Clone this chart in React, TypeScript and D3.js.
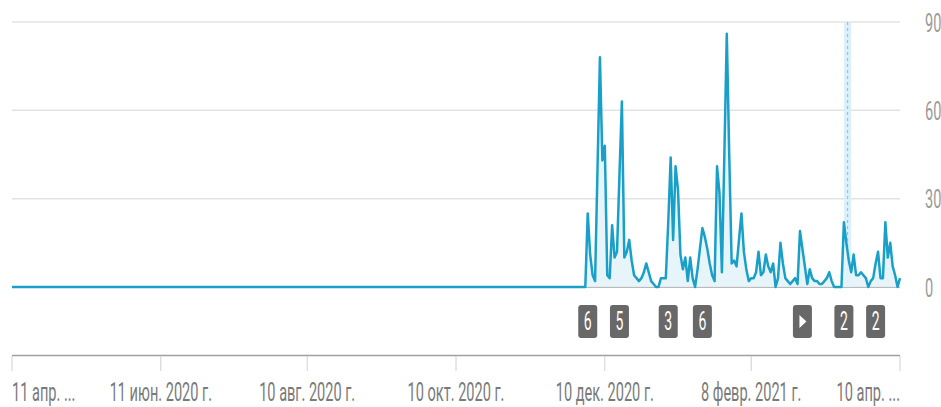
import React from "react";
import * as d3 from "d3";

// ---- data ----
const domainDates = ["2020-04-11", "2021-04-10"];
const flatDates = ["2020-04-11", "2020-12-02"];
const flatValues = [0, 0];
const activeStart = "2020-12-03";
const activeValues = [
  25, 11, 4, 2, 40, 78, 43, 48, 4, 3,
  21, 10, 12, 38, 63, 10, 12, 16, 9, 4,
  3, 2, 3, 5, 8, 5, 2, 1, 0, 0,
  3, 3, 3, 22, 44, 16, 41, 33, 11, 6,
  10, 2, 10, 3, 0, 6, 13, 20, 17, 13,
  8, 4, 2, 41, 32, 5, 45, 86, 45, 8,
  9, 7, 16, 25, 12, 6, 2, 3, 3, 5,
  12, 4, 5, 11, 7, 5, 8, 0, 3, 15,
  8, 3, 2, 1, 2, 3, 1, 19, 13, 7,
  1, 6, 3, 2, 2, 1, 1, 2, 3, 5,
  2, 0, 0, 0, 0, 22, 15, 9, 5, 11,
  4, 4, 5, 4, 3, 0, 2, 3, 8, 12,
  3, 3, 22, 10, 15, 7, 4, 0, 3,
];
const tickDates = ["2020-04-11", "2020-06-11", "2020-08-10", "2020-10-10", "2020-12-10", "2021-02-08", "2021-04-10"];
const tickLabels = ["11 апр. ...", "11 июн. 2020 г.", "10 авг. 2020 г.", "10 окт. 2020 г.", "10 дек. 2020 г.", "8 февр. 2021 г.", "10 апр. ..."];
const yTicks = [0, 30, 60, 90];
const markerDates = ["2020-12-03", "2020-12-16", "2021-01-05", "2021-01-19", "2021-03-01", "2021-03-18", "2021-03-31"];
const markerLabels = ["6", "5", "3", "6", "play", "2", "2"];
const bandDates = ["2021-03-18", "2021-03-21"];

// ---- styles ----
const W = 941;
const H = 407;
const LINE = "#1aa0c8";
const FONT = "Roboto, 'Noto Sans', sans-serif";
const SX = 0.56;

export default function App() {
  const parse = d3.utcParse("%Y-%m-%d");
  const x = d3.scaleUtc().domain(domainDates.map((d) => parse(d)!)).range([12, 900]);
  const y = d3.scaleLinear().domain([0, 90]).range([287, 22]);

  const start = parse(activeStart)!;
  const points: [Date, number][] = [
    ...flatDates.map((d, i) => [parse(d)!, flatValues[i]] as [Date, number]),
    ...activeValues.map((v, i) => [d3.utcDay.offset(start, i), v] as [Date, number]),
  ];

  const line = d3.line<[Date, number]>().x((d) => x(d[0])).y((d) => y(d[1]));
  const area = d3
    .area<[Date, number]>()
    .x((d) => x(d[0]))
    .y0(y(0))
    .y1((d) => y(d[1]));

  const bx0 = x(parse(bandDates[0])!);
  const bx1 = x(parse(bandDates[1])!);
  const bxm = (bx0 + bx1) / 2;

  const [r0, r1] = x.range();

  return (
    <svg
      width={W}
      height={H}
      style={{ position: "absolute", left: 0, top: 0, display: "block", background: "#fff" }}
      fontFamily={FONT}
    >
      {/* gridlines */}
      {yTicks.map((t) => (
        <line
          key={"g" + t}
          x1={r0}
          x2={r1}
          y1={y(t)}
          y2={y(t)}
          stroke={t === 0 ? "#a3a3a3" : "#e3e3e3"}
          strokeWidth={t === 0 ? 1.5 : 1.5}
        />
      ))}
      {/* right axis labels */}
      {yTicks.map((t) => (
        <text
          key={"yl" + t}
          transform={`translate(925,${y(t) + 9.5}) scale(${SX},1)`}
          fontSize={26}
          fill="#9a9a9a"
        >
          {t}
        </text>
      ))}

      {/* hatched band */}
      <rect x={bx0} y={y(90)} width={bx1 - bx0} height={y(0) - y(90)} fill="#dcf0f9" />
      <line x1={bxm} x2={bxm} y1={y(90)} y2={y(0)} stroke="#8ec6dc" strokeWidth={1.2} strokeDasharray="3,3" />

      {/* area + line */}
      <path d={area(points)!} fill="#e4f4fa" opacity={0.9} />
      <path d={line(points)!} fill="none" stroke={LINE} strokeWidth={2.5} strokeLinejoin="round" />

      {/* markers */}
      {markerDates.map((d, i) => {
        const cx = x(parse(d)!);
        const lab = markerLabels[i];
        return (
          <g key={"m" + i}>
            <rect x={cx - 9.5} y={305} width={19} height={33} rx={3} fill="#686868" />
            {lab === "play" ? (
              <path d={`M${cx - 3},${315} L${cx + 4},${321.5} L${cx - 3},${328} Z`} fill="#fff" />
            ) : (
              <text
                transform={`translate(${cx},${330}) scale(${SX},1)`}
                textAnchor="middle"
                fontSize={25}
                fill="#fff"
              >
                {lab}
              </text>
            )}
          </g>
        );
      })}

      {/* x axis */}
      <line x1={r0} x2={r1} y1={355.5} y2={355.5} stroke="#a0a0a0" strokeWidth={1.5} />
      {tickDates.map((d, i) => {
        const tx = x(parse(d)!);
        const anchor = i === 0 ? "start" : i === tickDates.length - 1 ? "end" : "middle";
        return (
          <g key={"t" + i}>
            <line x1={tx} x2={tx} y1={356} y2={371} stroke="#d0d0d0" strokeWidth={1} />
            <text
              transform={`translate(${tx},${401}) scale(${SX},1)`}
              textAnchor={anchor}
              fontSize={26}
              fill="#7a7a7a"
            >
              {tickLabels[i]}
            </text>
          </g>
        );
      })}
    </svg>
  );
}
